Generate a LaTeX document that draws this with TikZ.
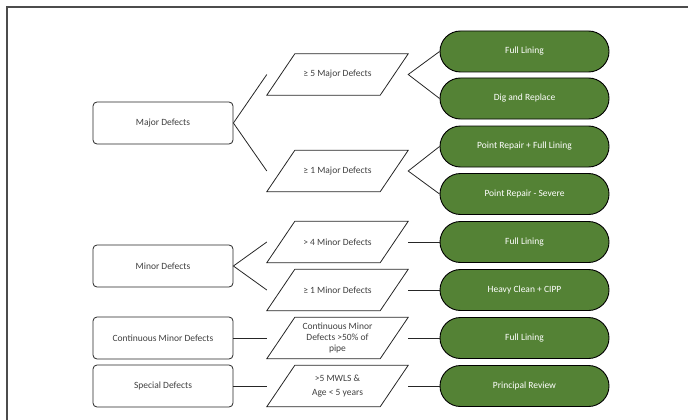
\documentclass[tikz,border=0pt]{standalone}
\usepackage{fontspec}
\setmainfont{Carlito}
\definecolor{grn}{HTML}{548235}
\newcommand\pgram[1]{\draw[pgline] (#1.south west) -- ([xshift=-28pt]#1.south east) -- (#1.north east) -- ([xshift=28pt]#1.north west) -- cycle;}
\begin{document}
\begin{tikzpicture}[x=1pt,y=-1pt,
  catbox/.style={draw=black!85, rounded corners=4pt, minimum width=140pt, minimum height=42pt, inner sep=0pt, font=\fontsize{9.5}{11}\selectfont, text=black!75, line width=0.8pt},
  condbox/.style={minimum width=141pt, minimum height=41pt, inner sep=0pt, align=center, font=\fontsize{9.5}{10.8}\selectfont, text=black!75},
  pgline/.style={draw=black!85, line width=0.8pt},
  actbox/.style={draw=black, fill=grn, rounded corners=20.5pt, minimum width=169pt, minimum height=41pt, inner sep=0pt, text=white, font=\fontsize{9.5}{11}\selectfont, line width=0.9pt},
  link/.style={draw=black!85, line width=0.8pt}]
\useasboundingbox (0,0) rectangle (688,420);
\draw[line width=2pt, black!70] (7,420) -- (7,7) -- (688,7);

% category boxes
\node[catbox] (major) at (163,123) {Major Defects};
\node[catbox] (minor) at (163,266) {Minor Defects};
\node[catbox] (cont)  at (163,338) {Continuous Minor Defects};
\node[catbox] (spec)  at (163,386) {Special Defects};

% condition boxes
\node[condbox] (c5) at (337.5,74.5) {≥ 5 Major Defects};
\node[condbox] (c1) at (337.5,171) {≥ 1 Major Defects};
\node[condbox] (m4) at (337.5,242) {> 4 Minor Defects};
\node[condbox] (m1) at (337.5,290) {≥ 1 Minor Defects};
\node[condbox] (cc) at (337.5,338) {Continuous Minor\\Defects >50\% of\\pipe};
\node[condbox] (sp) at (337.5,386) {>5 MWLS \&\\[4pt]Age < 5 years};
\pgram{c5}\pgram{c1}\pgram{m4}\pgram{m1}\pgram{cc}\pgram{sp}

% action terminals
\node[actbox] (a1) at (524.5,51.5) {Full Lining};
\node[actbox] (a2) at (524.5,98.5) {Dig and Replace};
\node[actbox] (a3) at (524.5,146.5) {Point Repair + Full Lining};
\node[actbox] (a4) at (524.5,194) {Point Repair - Severe};
\node[actbox] (a5) at (524.5,242) {Full Lining};
\node[actbox] (a6) at (524.5,290) {Heavy Clean + CIPP};
\node[actbox] (a7) at (524.5,338) {Full Lining};
\node[actbox] (a8) at (524.5,386) {Principal Review};

% connectors
\draw[link] (c5.west) -- (major.east) -- (c1.west);
\draw[link] (m4.west) -- (minor.east) -- (m1.west);
\draw[link] (cont.east) -- (cc.west);
\draw[link] (spec.east) -- (sp.west);
\draw[link] (a1.west) -- (c5.east) -- (a2.west);
\draw[link] (a3.west) -- (c1.east) -- (a4.west);
\draw[link] (m4.east) -- (a5.west);
\draw[link] (m1.east) -- (a6.west);
\draw[link] (cc.east) -- (a7.west);
\draw[link] (sp.east) -- (a8.west);
\end{tikzpicture}
\end{document}
